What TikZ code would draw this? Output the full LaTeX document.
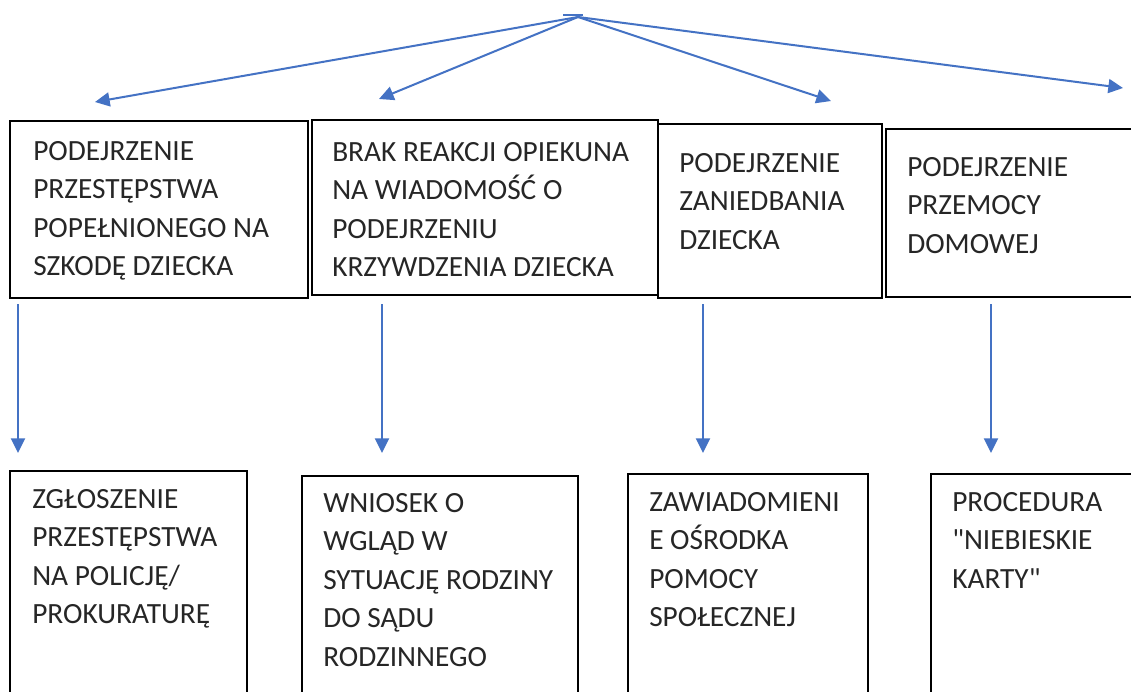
\documentclass[tikz,border=0pt]{standalone}
\usepackage{fontspec}
\setmainfont{Carlito}[Ligatures=TeXOff]
\usepackage{tikz}
\usetikzlibrary{arrows.meta}
\definecolor{linkblue}{RGB}{68,114,196}
\definecolor{txtgray}{RGB}{38,38,38}
\tikzset{
  box/.style={draw=black, line width=1.3pt},
  boxtext/.style={anchor=north west, inner sep=0pt, align=left, text=txtgray,
    font=\fontsize{22}{28.9}\selectfont},
  arr/.style={draw=linkblue, line width=1.5pt, -{Triangle[length=11pt,width=10.5pt]}}
}
\begin{document}
\begin{tikzpicture}[x=0.75pt,y=0.75pt,yscale=-1,xscale=1]
        \clip (0,0) rectangle (1131,692);
        \fill[white] (0,0) rectangle (1131,692);

        %Shape: Rectangle [top row]
        \draw [box] (10,121) rectangle (308,298) ;
        \draw [box] (312,120) rectangle (658,295) ;
        \draw [box] (658,124) rectangle (882,298) ;
        \draw [box] (886,129) rectangle (1150,297) ;
        %Shape: Rectangle [bottom row]
        \draw [box] (10,471) rectangle (247,720) ;
        \draw [box] (302,476) rectangle (578,720) ;
        \draw [box] (628,474) rectangle (868,720) ;
        \draw [box] (931,474) rectangle (1150,720) ;

        % Text Node
        \node [boxtext] (t1) at (33,141) {PODEJRZENIE\\PRZESTĘPSTWA\\POPEŁNIONEGO NA\\SZKODĘ DZIECKA};
        % Text Node
        \node [boxtext] (t2) at (332,142) {BRAK REAKCJI OPIEKUNA\\NA WIADOMOŚĆ O\\PODEJRZENIU\\KRZYWDZENIA DZIECKA};
        % Text Node
        \node [boxtext] (t3) at (679,153) {PODEJRZENIE\\ZANIEDBANIA\\DZIECKA};
        % Text Node
        \node [boxtext] (t4) at (907,157) {PODEJRZENIE\\PRZEMOCY\\DOMOWEJ};
        % Text Node
        \node [boxtext] (t5) at (32,489) {ZGŁOSZENIE\\PRZESTĘPSTWA\\NA POLICJĘ/\\PROKURATURĘ};
        % Text Node
        \node [boxtext] (t6) at (323,493) {WNIOSEK O\\WGLĄD W\\SYTUACJĘ RODZINY\\DO SĄDU\\RODZINNEGO};
        % Text Node
        \node [boxtext] (t7) at (649,492) {ZAWIADOMIENI\\E OŚRODKA\\POMOCY\\SPOŁECZNEJ};
        % Text Node
        \node [boxtext] (t8) at (952,492) {PROCEDURA\\"NIEBIESKIE\\KARTY"};

        % end points
        \coordinate (apex) at (578,17);
        \coordinate (apexl) at (563,15);
        \coordinate (apexr) at (583,15);
        \coordinate (a1) at (95,102);
        \coordinate (a2) at (379,99);
        \coordinate (a3) at (831,101);
        \coordinate (a4) at (1123,88);
        \coordinate (d1s) at (18,304);
        \coordinate (d1e) at (18,453);
        \coordinate (d2s) at (382,304);
        \coordinate (d2e) at (382,453);
        \coordinate (d3s) at (703,304);
        \coordinate (d3e) at (703,453);
        \coordinate (d4s) at (991,304);
        \coordinate (d4e) at (991,453);

        %Straight Lines [fan out]
        \draw [draw=linkblue, line width=1.2pt] (apexl) -- (apexr) ;
        \draw [arr] (apex) -- (a1) ;
        \draw [arr] (apex) -- (a2) ;
        \draw [arr] (apex) -- (a3) ;
        \draw [arr] (apex) -- (a4) ;
        %Straight Lines [down]
        \draw [arr] (d1s) -- (d1e) ;
        \draw [arr] (d2s) -- (d2e) ;
        \draw [arr] (d3s) -- (d3e) ;
        \draw [arr] (d4s) -- (d4e) ;

\end{tikzpicture}
\end{document}
